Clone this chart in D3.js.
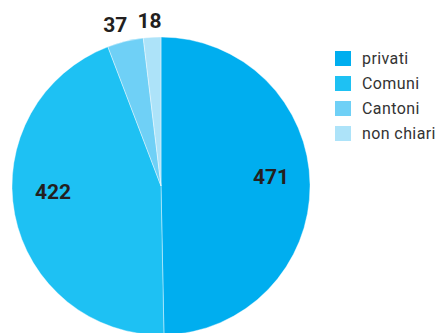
<!DOCTYPE html>
<html>
<head>
<meta charset="utf-8">
<script src="https://cdn.jsdelivr.net/npm/d3@7"></script>
<style>
  body { margin: 0; background: #fff; }
  svg { display: block; }
</style>
</head>
<body>
<svg id="chart" width="439" height="333"></svg>
<script>
const categories = ['privati', 'Comuni', 'Cantoni', 'non chiari']
const values = [471, 422, 37, 18]
const colors = ['#00aeef', '#1ec1f3', '#6fd0f6', '#ade3f9']

const width = 439, height = 333
const cx = 161, cy = 186, radius = 149

const svg = d3.select('#chart')

const pie = d3.pie().sort(null).value(d => d.value)
const arcs = pie(categories.map((c, i) => ({name: c, value: values[i]})))

const color = d3.scaleOrdinal().domain(categories).range(colors)

const arc = d3.arc().innerRadius(0).outerRadius(radius)
// big slices get labels inside, small ones just outside the rim
const inner = d3.arc().innerRadius(110).outerRadius(110)
const outer = d3.arc().innerRadius(radius + 17).outerRadius(radius + 17)

function labelPos(d) {
  const big = d.endAngle - d.startAngle > 0.5
  const [x, y] = (big ? inner : outer).centroid(d)
  // labels sit a little flatter than the centroid circle
  return big ? [x, y * 0.7 - 9] : [x * 1.15, y]
}

const g = svg.append('g').attr('transform', `translate(${cx},${cy})`)

g.selectAll('path')
  .data(arcs)
  .join('path')
  .attr('d', arc)
  .attr('fill', d => color(d.data.name))
  .attr('stroke', '#fff')
  .attr('stroke-width', 0.4)

g.selectAll('text')
  .data(arcs)
  .join('text')
  .attr('transform', d => `translate(${labelPos(d)})`)
  .attr('dy', '0.35em')
  .attr('text-anchor', 'middle')
  .attr('font-family', 'Roboto, "Liberation Sans", sans-serif')
  .attr('font-weight', 'bold')
  .attr('font-size', 21)
  .attr('fill', '#231f20')
  .text(d => d.data.value)

const legend = svg.append('g').attr('transform', 'translate(335,51)')
const rows = legend.selectAll('g')
  .data(categories)
  .join('g')
  .attr('transform', (d, i) => `translate(0,${i * 25})`)

rows.append('rect')
  .attr('width', 16)
  .attr('height', 15)
  .attr('fill', d => color(d))

rows.append('text')
  .attr('x', 27)
  .attr('y', 7.5)
  .attr('dy', '0.35em')
  .attr('font-family', 'Roboto, "Liberation Sans", sans-serif')
  .attr('font-size', 16)
  .attr('letter-spacing', 0.4)
  .attr('fill', '#333')
  .text(d => d)
</script>
</body>
</html>
